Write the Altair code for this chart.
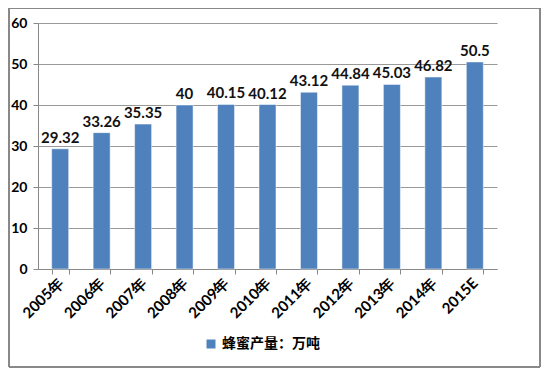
import altair as alt
import pandas as pd

years = ["2005年", "2006年", "2007年", "2008年", "2009年", "2010年",
         "2011年", "2012年", "2013年", "2014年", "2015E"]
values = [29.32, 33.26, 35.35, 40, 40.15, 40.12, 43.12, 44.84, 45.03, 46.82, 50.5]
labels = ["29.32", "33.26", "35.35", "40", "40.15", "40.12", "43.12", "44.84", "45.03", "46.82", "50.5"]
series = "蜂蜜产量：万吨"

df = pd.DataFrame({"year": years, "value": values, "label": labels, "series": series})

base = alt.Chart(df)

xenc = alt.X("year:N", sort=years, title=None,
             scale=alt.Scale(paddingInner=0.59, paddingOuter=0.33),
             axis=alt.Axis(labelAngle=-45, labelAlign="right", labelBaseline="middle",
                           labelFont="Lato", labelFontWeight="bold", labelFontSize=15,
                           labelColor="#000", domainColor="#888", tickColor="#888",
                           tickSize=5, labelPadding=6, tickBand="extent"))
yenc = alt.Y("value:Q", title=None,
             scale=alt.Scale(domain=[0, 60]),
             axis=alt.Axis(values=[0, 10, 20, 30, 40, 50, 60], labelFont="Lato",
                           labelFontWeight="bold", labelFontSize=14, labelColor="#000",
                           domainColor="#888", tickColor="#888", tickSize=5,
                           gridColor="#999", labelPadding=6))

bars = base.mark_bar(color="#4F81BD", stroke="#ffffff", strokeWidth=0.5).encode(
    x=xenc, y=yenc,
    color=alt.Color("series:N", scale=alt.Scale(range=["#4F81BD"]),
                    legend=alt.Legend(orient="none", legendX=166, legendY=314, title=None,
                                      symbolType="square", symbolSize=110,
                                      labelFont="Noto Sans CJK SC", labelFontWeight="bold",
                                      labelFontSize=14, labelColor="#000"))
)

text = base.mark_text(dy=-11, font="Lato", fontWeight="bold", fontSize=15, color="#111").encode(
    x=alt.X("year:N", sort=years), y="value:Q", text="label:N"
)

border = base.mark_rect(fill=None, stroke="#888", strokeWidth=1).encode(
    x=alt.value(-29), x2=alt.value(502), y=alt.value(-15), y2=alt.value(344)
)

chart = alt.layer(bars, text, border).properties(
    width=459, height=246,
    autosize=alt.AutoSizeParams(type="none"),
    padding={"left": 30, "top": 15, "right": 45, "bottom": 100},
).configure_view(stroke=None)

chart.save("out.html", embed_options={"renderer": "svg", "actions": False})
